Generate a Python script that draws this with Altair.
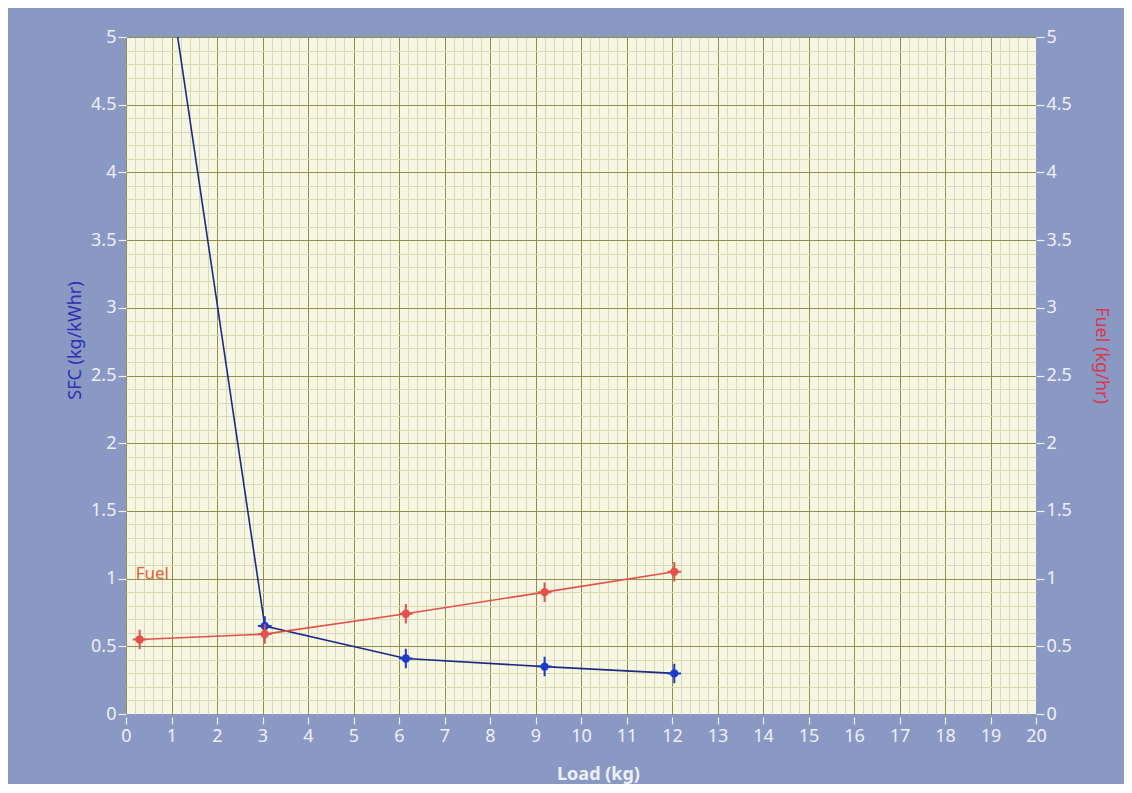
import altair as alt
import pandas as pd

# ---- data ----
load = [0.3, 3.05, 6.15, 9.2, 12.05]
sfc = [6.9, 0.65, 0.41, 0.35, 0.30]
fuel = [0.55, 0.59, 0.74, 0.90, 1.05]

x_ticks = list(range(0, 21))
y_ticks = [0, 0.5, 1, 1.5, 2, 2.5, 3, 3.5, 4, 4.5, 5]
x_major_grid = list(range(0, 20))
y_major_grid = [0.5, 1, 1.5, 2, 2.5, 3, 3.5, 4, 4.5, 5]
x_minor_grid = [round(i * 0.2, 1) for i in range(101) if i % 5 != 0]
y_minor_grid = [round(i * 0.1, 1) for i in range(51) if i % 5 != 0]

df = pd.DataFrame({"load": load, "sfc": sfc, "fuel": fuel})

FRAME = "#8a99c4"
PLOT_BG = "#f6f6e2"
MINOR = "#d9d9b6"
MAJOR = "#8f8f48"
LABEL = "#eef0f8"
BLUE_LINE = "#1c2a86"
BLUE_PT = "#1a3cc8"
RED = "#e4504a"
FONT = "Noto Sans"
LFS = 18

xs = alt.Scale(domain=[0, 20], nice=False, zero=False)
ys = alt.Scale(domain=[0, 5], nice=False, zero=False)

base = alt.Chart(df)

grid_only = dict(labels=False, ticks=False, domain=False, grid=True, gridWidth=1)

minor = base.mark_point(opacity=0).encode(
    x=alt.X("load:Q", scale=xs, title=None,
            axis=alt.Axis(values=x_minor_grid, orient="top", gridColor=MINOR, **grid_only)),
    y=alt.Y("fuel:Q", scale=ys, title=None,
            axis=alt.Axis(values=y_minor_grid, orient="right", gridColor=MINOR, **grid_only)),
)

major = base.mark_point(opacity=0).encode(
    x=alt.X("load:Q", scale=xs, title=None,
            axis=alt.Axis(values=x_major_grid, orient="top", gridColor=MAJOR, **grid_only)),
    y=alt.Y("fuel:Q", scale=ys, title=None,
            axis=alt.Axis(values=y_major_grid, orient="right", gridColor=MAJOR, **grid_only)),
)

sfc_line = base.mark_line(color=BLUE_LINE, strokeWidth=1.6, clip=True).encode(
    x=alt.X("load:Q", scale=xs, title="Load (kg)",
            axis=alt.Axis(values=x_ticks, orient="bottom", grid=False, domain=False,
                          ticks=True, tickColor=LABEL, tickSize=7, tickWidth=1.2,
                          offset=3, labelColor=LABEL, labelFont=FONT, labelFontSize=LFS,
                          labelPadding=3, labelFlush=False, labelOverlap=False,
                          format="~g",
                          titleColor=LABEL, titleFont=FONT, titleFontSize=18,
                          titleFontWeight="bold", titleX=472, titleY=57,
                          titleBaseline="middle")),
    y=alt.Y("sfc:Q", scale=ys, title="SFC (kg/kWhr)",
            axis=alt.Axis(values=y_ticks, orient="left", grid=False, domain=False,
                          tickColor=LABEL, tickSize=8, tickWidth=1.2,
                          labelColor=LABEL, labelFont=FONT, labelFontSize=LFS,
                          labelPadding=2, labelOverlap=False, labelFlush=False,
                          format="~g",
                          titleColor="#2b30b4", titleFont=FONT, titleFontSize=18,
                          titleFontWeight="normal", titleAngle=270,
                          titleX=-51, titleY=303, titleBaseline="middle")),
)

cross_path = "M0,-1L0,1M-0.7,0L0.7,0"

def pts(field, color):
    enc = dict(x=alt.X("load:Q", scale=xs, axis=None),
               y=alt.Y(field + ":Q", scale=ys, axis=None))
    cross = base.mark_point(shape=cross_path, filled=False, color=color,
                            strokeWidth=2, size=380, opacity=1, clip=True).encode(**enc)
    dot = base.mark_circle(color=color, size=70, opacity=1, clip=True).encode(**enc)
    return cross, dot

sfc_cross, sfc_dot = pts("sfc", BLUE_PT)

fuel_line = base.mark_line(color=RED, strokeWidth=1.6, clip=True).encode(
    x=alt.X("load:Q", scale=xs, axis=None),
    y=alt.Y("fuel:Q", scale=ys, title="Fuel (kg/hr)",
            axis=alt.Axis(values=y_ticks, orient="right", grid=False, domain=False,
                          tickColor=LABEL, tickSize=8, tickWidth=1.2,
                          labelColor=LABEL, labelFont=FONT, labelFontSize=LFS,
                          labelPadding=2, labelOverlap=False, labelFlush=False,
                          format="~g",
                          titleColor="#d8384a", titleFont=FONT, titleFontSize=18,
                          titleFontWeight="normal", titleAngle=90,
                          titleX=64, titleY=318, titleBaseline="middle")),
)
fuel_cross, fuel_dot = pts("fuel", RED)

fuel_label = base.transform_filter(alt.datum.load == load[0]).mark_text(
    text="Fuel", color="#e0603c", font=FONT, fontSize=17, align="left",
    baseline="middle", dx=-4, dy=-66).encode(
    x=alt.X("load:Q", scale=xs, axis=None), y=alt.Y("fuel:Q", scale=ys, axis=None))

chart = alt.layer(
    minor, major, sfc_line, sfc_cross, sfc_dot, fuel_line, fuel_cross, fuel_dot, fuel_label
).resolve_scale(x="shared", y="shared").resolve_axis(
    x="independent", y="independent"
).properties(
    width=910, height=677,
    background=FRAME,
    padding={"left": 118, "top": 29, "right": 88, "bottom": 70},
    autosize=alt.AutoSizeParams(type="none"),
).configure_view(fill=PLOT_BG, stroke=None)

chart.save("out.html", embed_options={"renderer": "svg", "actions": False})
